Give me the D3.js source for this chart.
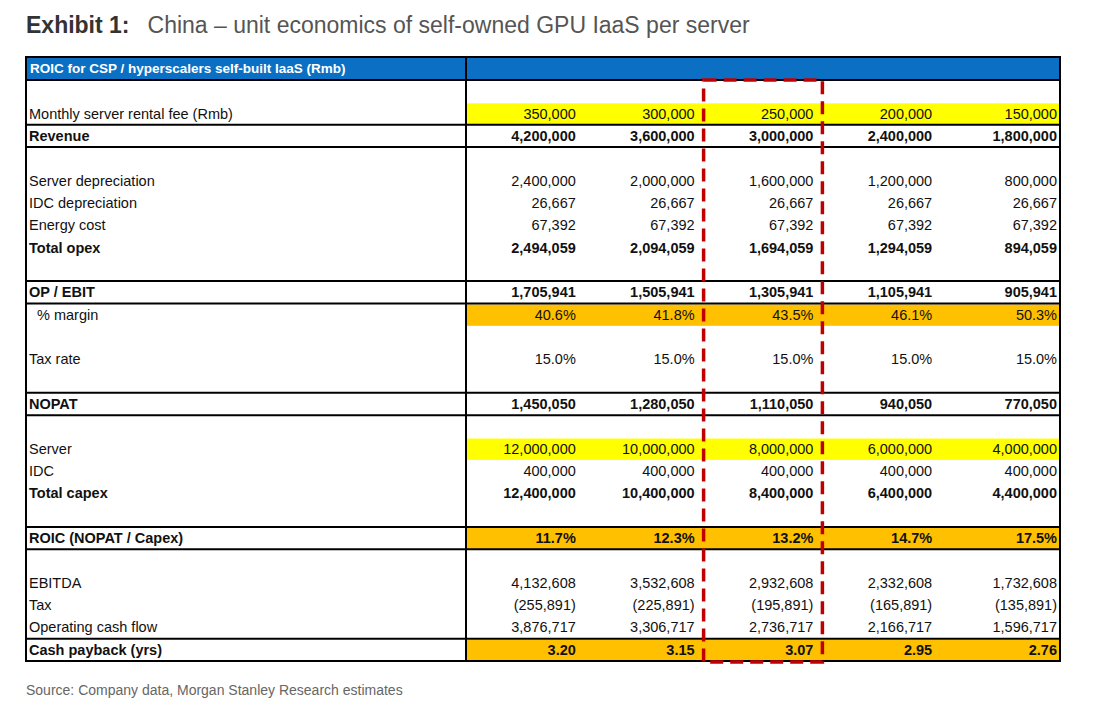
<!DOCTYPE html>
<html><head><meta charset="utf-8">
<script src="https://cdn.jsdelivr.net/npm/d3@7"></script>
<style>body{margin:0;background:#fff;font-family:Arial,"Liberation Sans",sans-serif}</style>
</head><body>
<svg id="chart" width="1096" height="713"></svg>
<script>
// scenarios: monthly rental fee columns
const scenarios = ["350,000", "300,000", "250,000", "200,000", "150,000"];
const rowLabels = ["", "Monthly server rental fee (Rmb)", "Revenue", "", "Server depreciation", "IDC depreciation",
  "Energy cost", "Total opex", "", "OP / EBIT", "  % margin", "", "Tax rate", "", "NOPAT", "", "Server", "IDC",
  "Total capex", "", "ROIC (NOPAT / Capex)", "", "EBITDA", "Tax", "Operating cash flow", "Cash payback (yrs)"];
const rowValues = [
  null, scenarios,
  ["4,200,000", "3,600,000", "3,000,000", "2,400,000", "1,800,000"], null,
  ["2,400,000", "2,000,000", "1,600,000", "1,200,000", "800,000"],
  ["26,667", "26,667", "26,667", "26,667", "26,667"],
  ["67,392", "67,392", "67,392", "67,392", "67,392"],
  ["2,494,059", "2,094,059", "1,694,059", "1,294,059", "894,059"], null,
  ["1,705,941", "1,505,941", "1,305,941", "1,105,941", "905,941"],
  ["40.6%", "41.8%", "43.5%", "46.1%", "50.3%"], null,
  ["15.0%", "15.0%", "15.0%", "15.0%", "15.0%"], null,
  ["1,450,050", "1,280,050", "1,110,050", "940,050", "770,050"], null,
  ["12,000,000", "10,000,000", "8,000,000", "6,000,000", "4,000,000"],
  ["400,000", "400,000", "400,000", "400,000", "400,000"],
  ["12,400,000", "10,400,000", "8,400,000", "6,400,000", "4,400,000"], null,
  ["11.7%", "12.3%", "13.2%", "14.7%", "17.5%"], null,
  ["4,132,608", "3,532,608", "2,932,608", "2,332,608", "1,732,608"],
  ["(255,891)", "(225,891)", "(195,891)", "(165,891)", "(135,891)"],
  ["3,876,717", "3,306,717", "2,736,717", "2,166,717", "1,596,717"],
  ["3.20", "3.15", "3.07", "2.95", "2.76"]
];
const boldRows = [2, 7, 9, 14, 18, 20, 25];
const yellowRows = [1, 16];
const orangeRows = [10, 20, 25];
const thickLines = [2, 3, 9, 10, 14, 15, 20, 21, 25]; // line at top of these rows
const highlightCol = 2;

const svg = d3.select("#chart");
const leftX = 26, labelW = 440, rightX = 1060, headTop = 57, headH = 23, tableTop = 80, tableBot = 661;

const x = d3.scaleBand().domain(d3.range(scenarios.length)).range([leftX + labelW, rightX]);
const y = d3.scaleBand().domain(d3.range(rowLabels.length)).range([tableTop, tableBot]);

// title
const t = svg.append("text").attr("x", leftX).attr("y", 33).attr("font-size", 23);
t.append("tspan").attr("font-weight", "bold").attr("fill", "#333").text("Exhibit 1:");
t.append("tspan").attr("dx", 18).attr("fill", "#555").attr("font-weight", 300).text("China \u2013 unit economics of self-owned GPU IaaS per server");

// header band
svg.append("rect").attr("x", leftX).attr("y", headTop).attr("width", rightX - leftX).attr("height", headH).attr("fill", "#0b70c4");
svg.append("text").attr("x", leftX + 4).attr("y", headTop + 16).attr("fill", "#fff").attr("font-weight", "bold")
  .attr("font-size", 13.5).text("ROIC for CSP / hyperscalers self-built IaaS (Rmb)");

// fills
rowValues.forEach((vals, i) => {
  const c = yellowRows.includes(i) ? "#ffff00" : orangeRows.includes(i) ? "#ffc000" : null;
  if (c) svg.append("rect").attr("x", x(0)).attr("y", y(i) + 1).attr("width", rightX - x(0)).attr("height", y.bandwidth() - 1).attr("fill", c);
});

// text
const rows = svg.append("g").selectAll("g").data(rowLabels).join("g")
  .attr("transform", (d, i) => `translate(0,${y(i) + y.bandwidth() / 2 + 5})`)
  .attr("font-size", 14.5).attr("fill", "#111")
  .attr("font-weight", (d, i) => boldRows.includes(i) ? "bold" : null);
rows.append("text").attr("x", leftX + 3).attr("xml:space", "preserve").text(d => d);
rows.each(function (d, i) {
  const vals = rowValues[i];
  if (!vals) return;
  d3.select(this).selectAll("text.v").data(vals).join("text").attr("class", "v")
    .attr("x", (v, j) => x(j) + x.bandwidth() - (j === 4 ? 3 : 9)).attr("text-anchor", "end").text(v => v);
});

// lines
const g = svg.append("g").attr("stroke", "#000");
thickLines.forEach(i => g.append("line").attr("x1", leftX).attr("x2", rightX).attr("y1", y(i)).attr("y2", y(i)).attr("stroke-width", 2));
g.append("rect").attr("x", leftX).attr("y", headTop).attr("width", rightX - leftX).attr("height", tableBot - headTop)
  .attr("fill", "none").attr("stroke-width", 2);
g.append("line").attr("x1", leftX).attr("x2", rightX).attr("y1", tableTop).attr("y2", tableTop).attr("stroke-width", 2);
g.append("line").attr("x1", x(0)).attr("x2", x(0)).attr("y1", headTop).attr("y2", tableBot).attr("stroke-width", 2);

// highlight box
svg.append("rect").attr("x", x(highlightCol)).attr("y", tableTop).attr("width", x.bandwidth()).attr("height", tableBot - tableTop + 1)
  .attr("fill", "none").attr("stroke", "#c00000").attr("stroke-width", 3.5).attr("stroke-dasharray", "13,7");

svg.append("text").attr("x", leftX).attr("y", 695).attr("font-size", 14).attr("fill", "#666")
  .text("Source: Company data, Morgan Stanley Research estimates");
</script>
</body></html>
